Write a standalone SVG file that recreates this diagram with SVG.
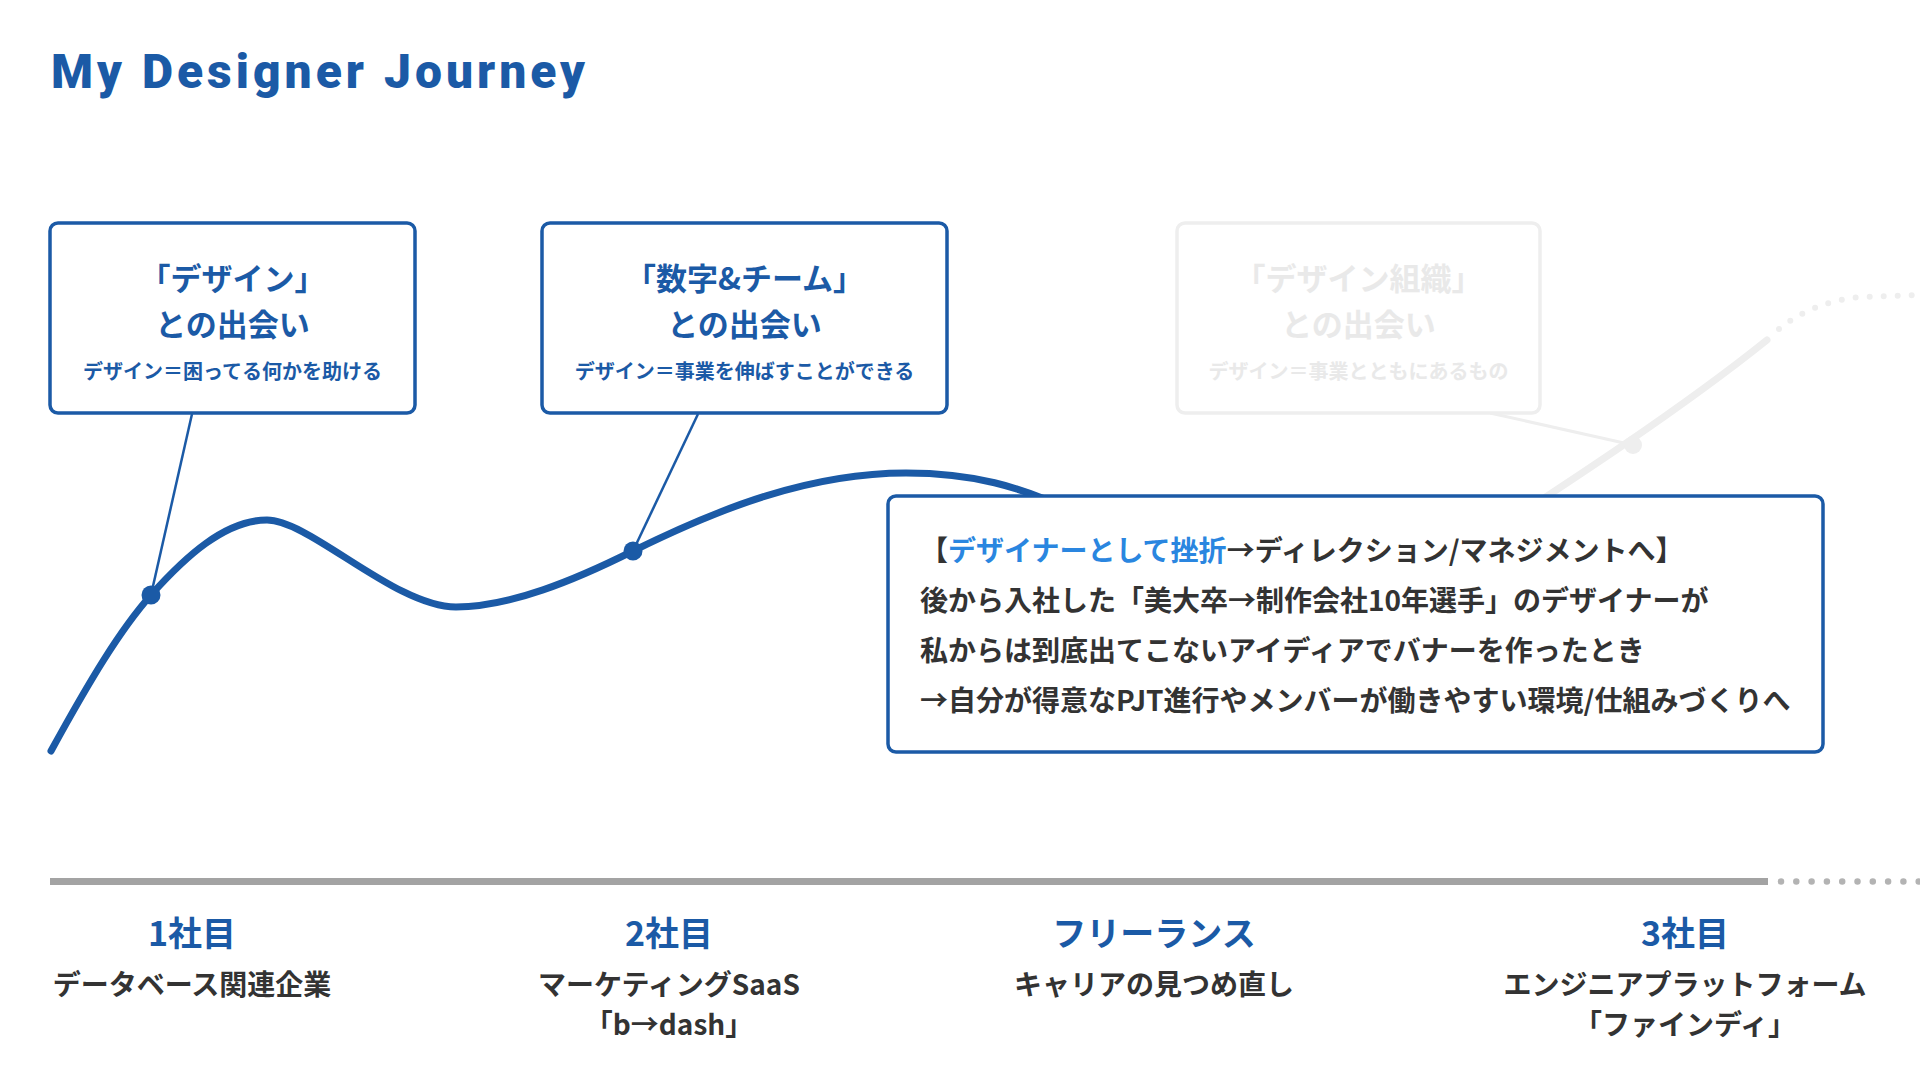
<svg xmlns="http://www.w3.org/2000/svg" width="1920" height="1080" viewBox="0 0 1920 1080">
<defs>
<style>
.jp{font-family:"Noto Sans CJK JP","Noto Sans",sans-serif;font-weight:700}
.title{font-family:Roboto,"Liberation Sans",sans-serif;font-weight:900;font-size:48px;fill:#1b5aa6;letter-spacing:4px}
.box{fill:#fff;stroke:#1b5aa6;stroke-width:3.5}
.fbox{fill:#fff;stroke:#eeeeee;stroke-width:3.5}
.bt{font-size:31px;fill:#1b5aa6;text-anchor:middle}
.bs{font-size:20px;fill:#1b5aa6;text-anchor:middle}
.ft{fill:#e9e9e9}
.body{font-size:28px;fill:#333}
.hl{fill:#2a86e0}
.lh{font-size:34px;fill:#1b5aa6;text-anchor:middle}
.ld{font-size:28px;fill:#333;text-anchor:middle}
.curve{fill:none;stroke:#1b5aa6;stroke-width:7;stroke-linecap:round}
.lead{stroke:#1b5aa6;stroke-width:2.5;fill:none}
.fcurve{fill:none;stroke:#eeeeee;stroke-width:7;stroke-linecap:round}
</style>
</defs>
<rect width="1920" height="1080" fill="#fff"/>
<text class="title" x="51" y="88">My Designer Journey</text>

<g id="connectors">
<path class="fcurve" d="M1480 540 C1560 488 1680 410 1767 340"/>
<path fill="none" stroke="#eeeeee" stroke-width="6" stroke-linecap="round" stroke-dasharray="0 14" d="M1779 329 Q1812 302 1860 297 L1920 295"/>
<line x1="1490" y1="413" x2="1633" y2="445" stroke="#eeeeee" stroke-width="3"/>
<circle cx="1633" cy="445" r="9" fill="#eeeeee"/>
<path class="curve" d="M51 751 C90 680 120 630 151 595 C185 557 225 520 267 520 C310 520 395 607 456 607 C510 607 575 580 633 551 C720 508 810 473 906 473 C970 473 1020 485 1080 515"/>
<line class="lead" x1="192" y1="414" x2="151" y2="595"/>
<line class="lead" x1="698" y1="414" x2="633" y2="551"/>
<circle cx="151" cy="595" r="9.5" fill="#1b5aa6"/>
<circle cx="633" cy="551" r="9.5" fill="#1b5aa6"/>
</g>

<g id="node-design">
<rect class="box" x="50" y="223" width="365" height="190" rx="8"/>
<text class="jp bt" x="232.5" y="290">「デザイン」</text>
<text class="jp bt" x="232.5" y="336">との出会い</text>
<text class="jp bs" x="232.5" y="379">デザイン＝困ってる何かを助ける</text>
</g>

<g id="node-team">
<rect class="box" x="542" y="223" width="405" height="190" rx="8"/>
<text class="jp bt" x="744.5" y="290">「数字&amp;チーム」</text>
<text class="jp bt" x="744.5" y="336">との出会い</text>
<text class="jp bs" x="744.5" y="379">デザイン＝事業を伸ばすことができる</text>
</g>

<g id="node-org">
<rect class="fbox" x="1177" y="223" width="363" height="190" rx="8"/>
<text class="jp bt ft" x="1358.5" y="290">「デザイン組織」</text>
<text class="jp bt ft" x="1358.5" y="336">との出会い</text>
<text class="jp bs ft" x="1358.5" y="379">デザイン＝事業とともにあるもの</text>
</g>

<g id="node-setback">
<rect class="box" x="888" y="496" width="935" height="256" rx="8"/>
<text class="jp body" x="920" y="561">【<tspan class="hl">デザイナーとして挫折</tspan>→ディレクション/マネジメントへ】</text>
<text class="jp body" x="920" y="611">後から入社した「美大卒→制作会社10年選手」のデザイナーが</text>
<text class="jp body" x="920" y="661">私からは到底出てこないアイディアでバナーを作ったとき</text>
<text class="jp body" x="920" y="711">→自分が得意なPJT進行やメンバーが働きやすい環境/仕組みづくりへ</text>
</g>

<g id="timeline">
<line x1="50" y1="881.5" x2="1768" y2="881.5" stroke="#a3a3a3" stroke-width="7"/>
<line x1="1781" y1="881.5" x2="1920" y2="881.5" stroke="#b3b3b3" stroke-width="6.5" stroke-linecap="round" stroke-dasharray="0 15.3"/>
</g>

<g id="label-1">
<text class="jp lh" x="192" y="946">1社目</text>
<text class="jp ld" x="192" y="995">データベース関連企業</text>
</g>
<g id="label-2">
<text class="jp lh" x="669" y="946">2社目</text>
<text class="jp ld" x="669" y="995">マーケティングSaaS</text>
<text class="jp ld" x="669" y="1035">「b→dash」</text>
</g>
<g id="label-free">
<text class="jp lh" x="1154" y="946">フリーランス</text>
<text class="jp ld" x="1154" y="995">キャリアの見つめ直し</text>
</g>
<g id="label-3">
<text class="jp lh" x="1685" y="946">3社目</text>
<text class="jp ld" x="1685" y="995">エンジニアプラットフォーム</text>
<text class="jp ld" x="1685" y="1035">「ファインディ」</text>
</g>
</svg>
